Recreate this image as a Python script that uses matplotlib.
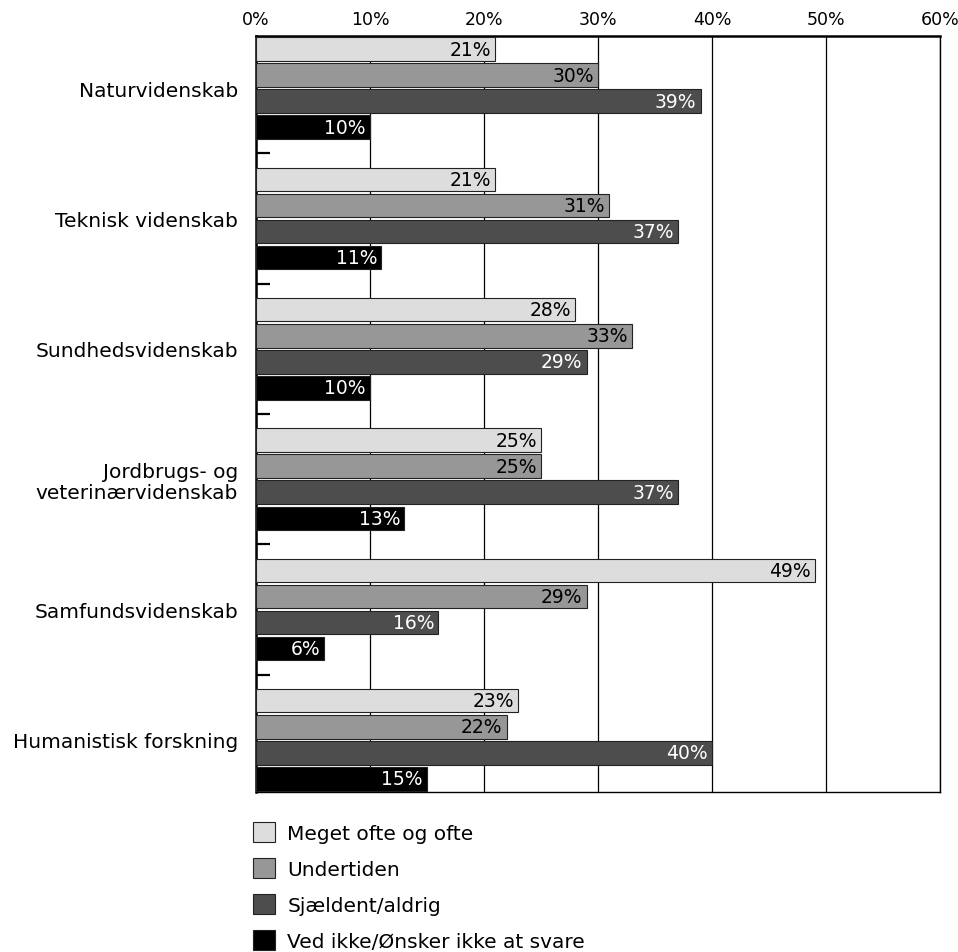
import numpy as np
import matplotlib.pyplot as plt
from matplotlib.patches import Patch

plt.rcParams['font.family'] = ['DejaVu Sans']

# data
categories = ['Naturvidenskab', 'Teknisk videnskab', 'Sundhedsvidenskab',
              'Jordbrugs- og\nveterinærvidenskab', 'Samfundsvidenskab',
              'Humanistisk forskning']
series_names = ['Meget ofte og ofte', 'Undertiden', 'Sjældent/aldrig',
                'Ved ikke/Ønsker ikke at svare']
meget_ofte = [21, 21, 28, 25, 49, 23]
undertiden = [30, 31, 33, 25, 29, 22]
sjaeldent = [39, 37, 29, 37, 16, 40]
ved_ikke = [10, 11, 10, 13, 6, 15]
x_ticks = [0, 10, 20, 30, 40, 50, 60]

series = [meget_ofte, undertiden, sjaeldent, ved_ikke]
colors = ['#dddddd', '#979797', '#4d4d4d', '#000000']
text_colors = ['black', 'black', 'white', 'white']

fig = plt.figure(figsize=(9.58, 9.53), dpi=100)
ax = fig.add_axes([0.2672, 0.1679, 0.714, 0.7933])

n = len(categories)
slots = 5
for j, vals in enumerate(series):
    ys = np.arange(n) * slots + j + 0.5
    ax.barh(ys, vals, height=0.9, color=colors[j], edgecolor='#222222',
            linewidth=0.8, zorder=3)
    for y, v in zip(ys, vals):
        ax.annotate(f'{v}%', (v, y), xytext=(-3, 0), textcoords='offset points',
                    ha='right', va='center', fontsize=13.5,
                    color=text_colors[j], zorder=4)

ax.set_xlim(0, 60)
ax.set_ylim(n * slots - 1, 0)

ax.set_xticks(x_ticks)
ax.set_xticklabels([f'{t}%' for t in x_ticks], fontsize=12.5)
ax.xaxis.tick_top()
ax.tick_params(axis='x', length=0, pad=6)
ax.grid(axis='x', color='black', linewidth=0.9, zorder=0)

ax.set_yticks(np.arange(n) * slots + 2.0)
ax.set_yticklabels(categories, fontsize=14.5, linespacing=1.15)
ax.tick_params(axis='y', which='major', length=0, pad=13)
ax.set_yticks(np.arange(n - 1) * slots + 4.5, minor=True)
ax.tick_params(axis='y', which='minor', direction='in', length=10,
               width=1.6, color='black')

for side in ['top', 'left']:
    ax.spines[side].set_linewidth(1.8)
ax.spines['bottom'].set_linewidth(1.0)
ax.spines['right'].set_linewidth(1.0)

handles = [Patch(facecolor=c, edgecolor='#222222', linewidth=0.8) for c in colors]
fig.legend(handles, series_names, loc='upper left',
           bbox_to_anchor=(0.264, 0.136), frameon=False, fontsize=14.5,
           handlelength=1.1, handleheight=1.1, handletextpad=0.6,
           labelspacing=0.77, borderaxespad=0, borderpad=0)

fig.savefig('out.png', dpi=100)
